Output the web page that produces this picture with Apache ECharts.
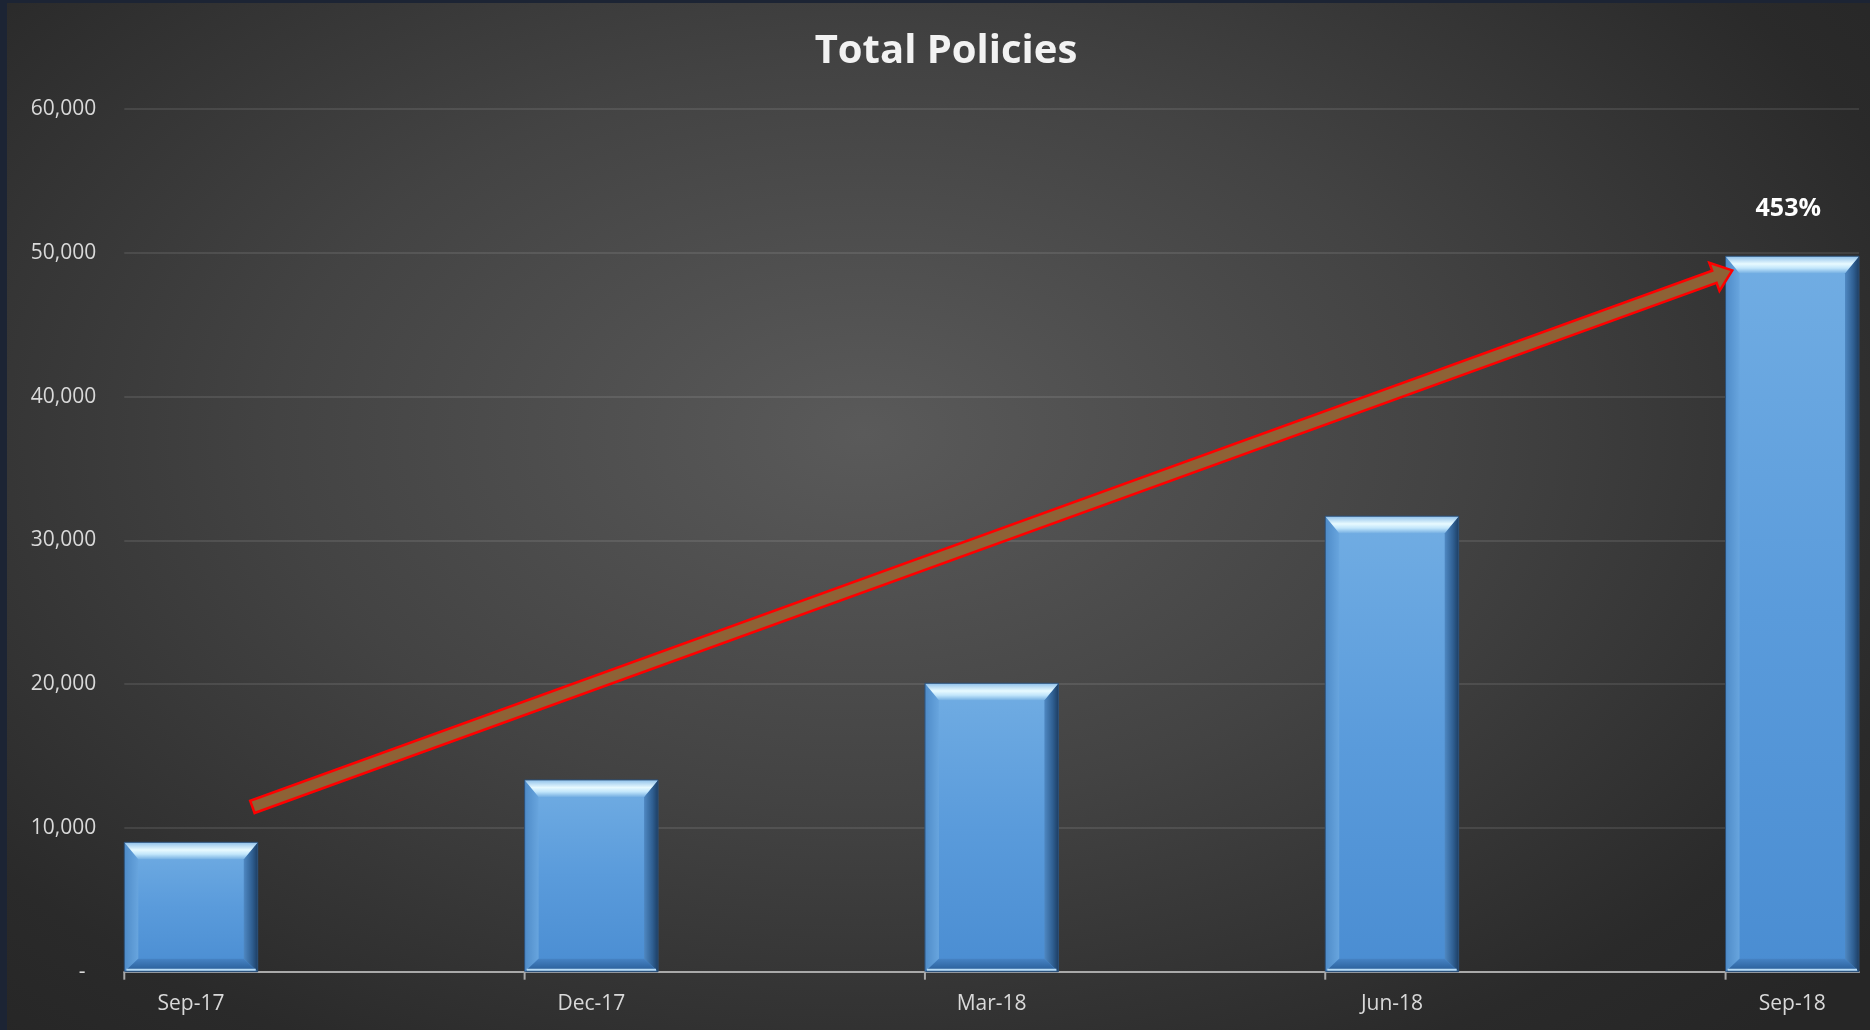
<!DOCTYPE html>
<html>
<head>
<meta charset="utf-8">
<title>Total Policies</title>
<script src="https://cdn.jsdelivr.net/npm/echarts@6/dist/echarts.min.js"></script>
<style>
  html, body { margin: 0; padding: 0; width: 1870px; height: 1030px; overflow: hidden; background: #1c2434; }
  #chart {
    position: absolute; left: 7px; top: 3px; width: 1863px; height: 1027px;
    background: radial-gradient(ellipse 70% 80% at 46% 42%, #5a5a5a 0%, #434343 45%, #2a2a2a 85%, #262626 100%);
  }
</style>
</head>
<body>
<div id="chart"></div>
<script>
// Quarter-end totals
const quarters = ['Sep-17', 'Dec-17', 'Mar-18', 'Jun-18', 'Sep-18'];
const policies = [9000, 13340, 20060, 31680, 49760];
const yTicks = [0, 10000, 20000, 30000, 40000, 50000, 60000];
const monthsPerQuarter = 3;

// Trend arrow, in months from the start of Sep-17 and policy count
const arrowFrom = [0.96, 11460];
const arrowTo = [12.05, 48780];

// Monthly slots: each quarter label owns one month-wide slot, followed by two empty months
const slots = [];
quarters.forEach((q, i) => {
  slots.push(q);
  if (i < quarters.length - 1) {
    for (let m = 1; m < monthsPerQuarter; m++) slots.push(q + '\u200b' + m);
  }
});
const barData = policies.map((v, i) => [i * monthsPerQuarter, v]);
const growthPct = Math.round((policies[policies.length - 1] / policies[0] - 1) * 100);

const FONT = '"Open Sans", "Noto Sans", sans-serif';
const AXIS_COLOR = '#a9a9a9';
const chart = echarts.init(document.getElementById('chart'), null, { renderer: 'canvas' });
const LG = echarts.graphic.LinearGradient;

// Bevelled column for one quarter, plus the quarter's tick mark on the date axis
function bevelBar(params, api) {
  const slot = api.value(0);
  const val = api.value(1);
  const top = api.coord([slot, val]);
  const base = api.coord([slot, 0]);
  const w = api.size([1, 0])[0];
  const x0 = top[0] - w / 2, x1 = top[0] + w / 2;
  const yt = top[1], yb = base[1];
  const bs = 14, bt = 17, bb = 13;
  const children = [
    { type: 'rect', shape: { x: x0, y: yt, width: w, height: yb - yt },
      style: { fill: new LG(0, 0, 0, 1, [
        { offset: 0, color: '#71ade3' }, { offset: 0.5, color: '#5a9bdb' }, { offset: 1, color: '#4a8dd2' }]) } },
    { type: 'polygon', shape: { points: [[x0, yt], [x0 + bs, yt + bt], [x0 + bs, yb - bb], [x0, yb]] },
      style: { fill: new LG(0, 0, 1, 0, [
        { offset: 0, color: '#4e8bc8' }, { offset: 1, color: '#68a5de' }]) } },
    { type: 'polygon', shape: { points: [[x1, yt], [x1, yb], [x1 - bs, yb - bb], [x1 - bs, yt + bt]] },
      style: { fill: new LG(0, 0, 1, 0, [
        { offset: 0, color: '#4f88c2' }, { offset: 0.6, color: '#2f5f92' }, { offset: 1, color: '#1d3e63' }]) } },
    { type: 'polygon', shape: { points: [[x0, yt], [x1, yt], [x1 - bs, yt + bt], [x0 + bs, yt + bt]] },
      style: { fill: new LG(0, 0, 0, 1, [
        { offset: 0, color: '#8fc0ea' }, { offset: 0.45, color: '#e8faff' }, { offset: 0.7, color: '#c2e6fb' }, { offset: 1, color: '#76b0e3' }]) } },
    { type: 'polygon', shape: { points: [[x0, yb], [x0 + bs, yb - bb], [x1 - bs, yb - bb], [x1, yb]] },
      style: { fill: new LG(0, 0, 0, 1, [
        { offset: 0, color: '#4683c4' }, { offset: 0.6, color: '#336ba8' }, { offset: 1, color: '#2a5a8f' }]) } },
    { type: 'rect', shape: { x: x0 + 2, y: yb - 3, width: w - 4, height: 2 },
      style: { fill: '#b8dcf6' } },
    { type: 'rect', shape: { x: x0, y: yt, width: w, height: yb - yt },
      style: { fill: 'none', stroke: '#2c4e74', lineWidth: 1 } },
    { type: 'line', shape: { x1: x0, y1: yb, x2: x0, y2: yb + 8 },
      style: { stroke: AXIS_COLOR, lineWidth: 2 } }
  ];
  if (params.dataIndex === policies.length - 1) {
    children.push({
      type: 'text', x: top[0] - 4, y: yt - 35,
      style: { text: growthPct + '%', fill: '#ffffff', font: 'bold 25px ' + FONT,
        align: 'center', verticalAlign: 'bottom' }
    });
  }
  return { type: 'group', children };
}

function trendArrow(params, api) {
  const p0 = api.coord(arrowFrom);
  const p1 = api.coord(arrowTo);
  const dx = p1[0] - p0[0], dy = p1[1] - p0[1];
  const len = Math.sqrt(dx * dx + dy * dy);
  const ux = dx / len, uy = dy / len;
  const nx = -uy, ny = ux;
  const hw = 6.5, hh = 15, hl = 19;
  const nk = [p1[0] - ux * hl, p1[1] - uy * hl];
  const pts = [
    [p0[0] + nx * hw, p0[1] + ny * hw],
    [nk[0] + nx * hw, nk[1] + ny * hw],
    [nk[0] + nx * hh, nk[1] + ny * hh],
    [p1[0], p1[1]],
    [nk[0] - nx * hh, nk[1] - ny * hh],
    [nk[0] - nx * hw, nk[1] - ny * hw],
    [p0[0] - nx * hw, p0[1] - ny * hw]
  ];
  return { type: 'polygon', shape: { points: pts },
    style: { fill: '#8e6236', stroke: '#ff0000', lineWidth: 2.5, lineJoin: 'miter' } };
}

chart.setOption({
  backgroundColor: 'transparent',
  animation: false,
  graphic: [{
    type: 'text', x: 939, y: 49,
    style: {
      text: 'Total Policies', fill: '#f2f2f2', font: 'bold 40px ' + FONT,
      align: 'center', verticalAlign: 'middle',
      shadowColor: 'rgba(0,0,0,0.85)', shadowBlur: 4, shadowOffsetX: 2, shadowOffsetY: 2
    }
  }],
  grid: { left: 117.3, right: 11, top: 106, bottom: 58.3, containLabel: false },
  xAxis: [{
    type: 'category',
    data: slots,
    boundaryGap: true,
    axisLine: { show: true, lineStyle: { color: AXIS_COLOR, width: 2 } },
    axisTick: { show: false },
    axisLabel: {
      interval: (i) => i % monthsPerQuarter === 0,
      color: '#d9d9d9', fontSize: 21, fontFamily: FONT, margin: 22
    },
    splitLine: { show: false }
  }, {
    type: 'value', min: 0, max: slots.length, show: false
  }],
  yAxis: {
    type: 'value', min: yTicks[0], max: yTicks[yTicks.length - 1],
    interval: yTicks[1] - yTicks[0],
    axisLine: { show: false }, axisTick: { show: false },
    axisLabel: {
      color: '#d9d9d9', fontSize: 21, fontFamily: FONT, margin: 28,
      formatter: (v) => v === 0 ? '-  ' : v.toLocaleString('en-US')
    },
    splitLine: { lineStyle: { color: 'rgba(255,255,255,0.13)', width: 1.5 } }
  },
  series: [{
    type: 'custom', name: 'Total Policies',
    xAxisIndex: 0, yAxisIndex: 0,
    renderItem: bevelBar,
    data: barData,
    clip: false,
    z: 3
  }, {
    type: 'custom', name: 'Trend',
    xAxisIndex: 1, yAxisIndex: 0,
    renderItem: trendArrow,
    data: [[arrowFrom[0], arrowFrom[1]]],
    clip: false,
    z: 5
  }]
});
</script>
</body>
</html>
